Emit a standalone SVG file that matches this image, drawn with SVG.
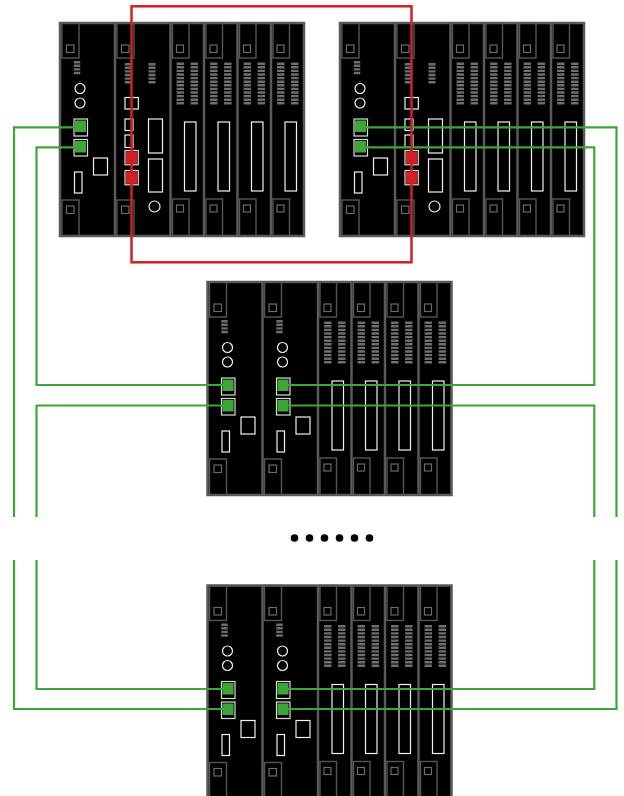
<svg xmlns="http://www.w3.org/2000/svg" width="624" height="796" viewBox="0 0 624 796">
<style>
.frame{fill:#000;stroke:#5a5a5a;stroke-width:2.5}
.div{stroke:#5a5a5a;stroke-width:2.5}
.tab{fill:none;stroke:#555;stroke-width:1.4}
.sq{fill:none;stroke:#6a6a6a;stroke-width:1.2}
.bar{stroke:#6e6e6e;stroke-dasharray:2.4 1.2}
.w{fill:none;stroke:#f2f2f2;stroke-width:1.2}
.port{fill:#000;stroke:#dcdcdc;stroke-width:1.2}
.gf{fill:#3ea638}
.rf{fill:#d21f26}
.link{fill:none;stroke:#3ea638;stroke-width:2.2}
.red{fill:none;stroke:#d21f26;stroke-width:2.5}
.dot{fill:#000}
</style>
<defs>
<g id="m-cpu">
 <rect class="tab" x="2" y="0" width="17" height="35"/>
 <rect class="sq" x="6.5" y="22" width="7.5" height="7.5"/>
 <line class="bar" x1="17" y1="38" x2="17" y2="51.2" stroke-width="6.5"/>
 <circle class="w" cx="20" cy="65.5" r="5"/>
 <circle class="w" cx="20" cy="80" r="5"/>
 <rect class="port" x="14" y="96" width="13.5" height="17"/>
 <rect class="gf" x="15" y="97.5" width="11" height="11.5"/>
 <rect class="port" x="14" y="116.5" width="13.5" height="16.5"/>
 <rect class="gf" x="15" y="118" width="11" height="11.5"/>
 <rect class="w" x="33.5" y="135" width="14" height="17"/>
 <rect class="w" x="14.5" y="149" width="7.5" height="21"/>
 <rect class="tab" x="2" y="177" width="17" height="36"/>
 <rect class="sq" x="6.5" y="183" width="7.5" height="7.5"/>
</g>
<g id="m-ctl">
 <rect class="tab" x="2" y="0" width="17" height="35"/>
 <rect class="sq" x="6.5" y="22" width="7.5" height="7.5"/>
 <line class="bar" x1="13" y1="40" x2="13" y2="60.4" stroke-width="6.5"/>
 <line class="bar" x1="37" y1="40" x2="37" y2="60.4" stroke-width="7"/>
 <rect class="w" x="10" y="74.5" width="13.3" height="11.5"/>
 <rect class="w" x="10" y="96" width="8" height="11.5"/>
 <rect class="w" x="10" y="112" width="8" height="12.5"/>
 <rect class="port" x="10" y="127.5" width="13.3" height="14.3"/>
 <rect class="rf" x="11" y="128.5" width="11.3" height="12.3"/>
 <rect class="port" x="10" y="147.5" width="13.3" height="14.3"/>
 <rect class="rf" x="11" y="148.5" width="11.3" height="12.3"/>
 <rect class="w" x="33.5" y="96" width="14" height="34"/>
 <rect class="w" x="33.5" y="136" width="14" height="33"/>
 <circle class="w" cx="39.5" cy="183.5" r="5.5"/>
 <rect class="tab" x="2" y="177" width="17" height="36"/>
 <rect class="sq" x="6.5" y="183" width="7.5" height="7.5"/>
</g>
<g id="m-io">
 <rect class="tab" x="2" y="0" width="16.5" height="35"/>
 <rect class="sq" x="6" y="22" width="7" height="7.5"/>
 <line class="bar" x1="9.8" y1="39.5" x2="9.8" y2="81.5" stroke-width="7.5"/>
 <line class="bar" x1="23.8" y1="39.5" x2="23.8" y2="81.5" stroke-width="7.5"/>
 <rect class="w" x="14" y="99" width="11.5" height="69"/>
 <rect class="tab" x="2" y="176" width="16.5" height="37"/>
 <rect class="sq" x="6" y="182" width="7" height="7"/>
</g>
<g id="dividers">
 <line class="div" x1="55" y1="0" x2="55" y2="213"/>
 <line class="div" x1="110.5" y1="0" x2="110.5" y2="213"/>
 <line class="div" x1="144" y1="0" x2="144" y2="213"/>
 <line class="div" x1="177.5" y1="0" x2="177.5" y2="213"/>
 <line class="div" x1="211" y1="0" x2="211" y2="213"/>
</g>
</defs>

<g id="rack-top-left" transform="translate(60,23)">
 <rect class="frame" x="0" y="0" width="244" height="213"/>
 <use href="#dividers"/>
 <use href="#m-cpu" x="0"/>
 <use href="#m-ctl" x="55"/>
 <use href="#m-io" x="110.5"/>
 <use href="#m-io" x="144"/>
 <use href="#m-io" x="177.5"/>
 <use href="#m-io" x="211"/>
</g>
<g id="rack-top-right" transform="translate(340,23)">
 <rect class="frame" x="0" y="0" width="244" height="213"/>
 <use href="#dividers"/>
 <use href="#m-cpu" x="0"/>
 <use href="#m-ctl" x="55"/>
 <use href="#m-io" x="110.5"/>
 <use href="#m-io" x="144"/>
 <use href="#m-io" x="177.5"/>
 <use href="#m-io" x="211"/>
</g>
<g id="rack-middle" transform="translate(207.5,282)">
 <rect class="frame" x="0" y="0" width="244" height="213"/>
 <use href="#dividers"/>
 <use href="#m-cpu" x="0"/>
 <use href="#m-cpu" x="55"/>
 <use href="#m-io" x="110.5"/>
 <use href="#m-io" x="144"/>
 <use href="#m-io" x="177.5"/>
 <use href="#m-io" x="211"/>
</g>
<g id="rack-bottom" transform="translate(207.5,585.5)">
 <rect class="frame" x="0" y="0" width="244" height="213"/>
 <use href="#dividers"/>
 <use href="#m-cpu" x="0"/>
 <use href="#m-cpu" x="55"/>
 <use href="#m-io" x="110.5"/>
 <use href="#m-io" x="144"/>
 <use href="#m-io" x="177.5"/>
 <use href="#m-io" x="211"/>
</g>

<g id="connectors">
 <polyline class="link" points="80,127.3 14,127.3 14,517"/>
 <polyline class="link" points="80,147.3 36.5,147.3 36.5,385 228,385"/>
 <polyline class="link" points="228,405.5 36.5,405.5 36.5,517"/>
 <polyline class="link" points="36.5,560 36.5,689 228,689"/>
 <polyline class="link" points="14,560 14,709 228,709"/>
 <polyline class="link" points="361,127.3 616.5,127.3 616.5,517"/>
 <polyline class="link" points="361,147.3 594.3,147.3 594.3,385 284,385"/>
 <polyline class="link" points="284,405.5 594.3,405.5 594.3,517"/>
 <polyline class="link" points="594.3,560 594.3,689 284,689"/>
 <polyline class="link" points="616.5,560 616.5,709 284,709"/>
 <rect class="red" x="131.5" y="6.3" width="280" height="256"/>
</g>

<g id="ellipsis">
 <circle class="dot" cx="294.5" cy="538" r="3.8"/>
 <circle class="dot" cx="309.5" cy="538" r="3.8"/>
 <circle class="dot" cx="324.5" cy="538" r="3.8"/>
 <circle class="dot" cx="339.5" cy="538" r="3.8"/>
 <circle class="dot" cx="354.5" cy="538" r="3.8"/>
 <circle class="dot" cx="369.5" cy="538" r="3.8"/>
</g>
</svg>
